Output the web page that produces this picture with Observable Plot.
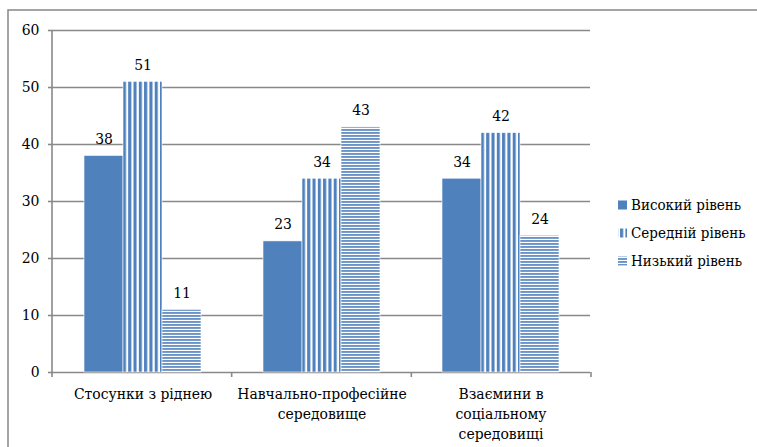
<!DOCTYPE html>
<html><head><meta charset="utf-8">
<script src="https://cdn.jsdelivr.net/npm/d3@7"></script>
<script src="https://cdn.jsdelivr.net/npm/@observablehq/plot@0.6"></script>
<style>
body{margin:0;background:#fff;}
#chart{position:relative;width:757px;height:447px;overflow:hidden;}
#chart svg{position:absolute;left:0;top:0;}
</style>
</head><body><div id="chart"></div>
<script>
const categories = ["Стосунки з ріднею", "Навчально-професійне середовище", "Взаємини в соціальному середовищі"];
const categoryLabels = ["Стосунки з ріднею", "Навчально-професійне\nсередовище", "Взаємини в\nсоціальному\nсередовищі"];
const series = ["Високий рівень", "Середній рівень", "Низький рівень"];
const highValues = [38, 23, 34];
const midValues = [51, 34, 42];
const lowValues = [11, 43, 24];
const yTicks = [0, 10, 20, 30, 40, 50, 60];

const seriesValues = [highValues, midValues, lowValues];
const fills = ["#4f81bd", "url(#vstripes)", "url(#hstripes)"];
const gridColor = "#898989";
const fontFamily = "'DejaVu Serif Condensed', 'DejaVu Serif'";
const fs = 15.5;
const data = categories.flatMap((c, i) => series.map((s, j) => ({category: c, series: s, value: seriesValues[j][i]})));

const plot = Plot.plot({
  width: 757, height: 447,
  marginLeft: 52, marginRight: 166, marginTop: 30, marginBottom: 75,
  style: {fontSize: fs + "px", fontFamily: fontFamily, color: "#000", background: "transparent", overflow: "visible"},
  fx: {domain: categories, padding: 0, label: null},
  x: {domain: series, paddingInner: 0, paddingOuter: 0.75, axis: null},
  y: {domain: [0, 60], label: null},
  marks: [
    Plot.ruleY(yTicks, {stroke: gridColor, strokeWidth: 1.6}),
    Plot.barY(data, {fx: "category", x: "series", y: "value",
      fill: {value: d => fills[series.indexOf(d.series)], scale: null}, stroke: "#fff", strokeWidth: 0.6}),
    Plot.text(data, {fx: "category", x: "series", y: "value", text: d => String(d.value), dy: -17, fill: "#000", fontSize: fs}),
    Plot.axisY({ticks: yTicks, tickSize: 5, tickPadding: 9, stroke: gridColor, strokeWidth: 1.6, fill: "#000", fontSize: fs, label: null}),
    Plot.axisFx({anchor: "bottom", tickSize: 0, tickPadding: 13, lineHeight: 1.27, fill: "#000", fontSize: fs, label: null,
      tickFormat: d => categoryLabels[categories.indexOf(d)]})
  ]
});

const svg = d3.select(plot);
const defs = svg.insert("defs", ":first-child");
const pv = defs.append("pattern").attr("id", "vstripes").attr("patternUnits", "userSpaceOnUse")
  .attr("width", 5.3).attr("height", 10);
pv.append("rect").attr("width", 5.3).attr("height", 10).attr("fill", "#fff");
pv.append("rect").attr("x", 0).attr("width", 3.1).attr("height", 10).attr("fill", "#4f81bd");
const ph = defs.append("pattern").attr("id", "hstripes").attr("patternUnits", "userSpaceOnUse")
  .attr("width", 10).attr("height", 3);
ph.append("rect").attr("width", 10).attr("height", 3).attr("fill", "#fff");
ph.append("rect").attr("y", 0).attr("width", 10).attr("height", 1.9).attr("fill", "#6a94c8");

const ys = plot.scale("y");
const fxs = plot.scale("fx");
const y0 = ys.apply ? ys.apply(0) : 372;
const yTop = ys.apply ? ys.apply(60) : 30;
const [fxLeft, fxRight] = fxs.range || [52, 591];
const g = svg.append("g").attr("stroke", gridColor).attr("stroke-width", 1.6);
g.append("line").attr("x1", fxLeft).attr("x2", fxLeft).attr("y1", yTop).attr("y2", y0 + 5);
for (let k = 1; k <= categories.length; k++) {
  const x = fxLeft + (fxRight - fxLeft) * k / categories.length;
  g.append("line").attr("x1", x).attr("x2", x).attr("y1", y0).attr("y2", y0 + 5);
}

const b = svg.append("g").attr("stroke", "#878787").attr("stroke-width", 1.5).attr("fill", "none");
b.append("path").attr("d", "M8,447V10H757");

const lg = svg.append("g").attr("font-size", 15).attr("text-anchor", "start");
series.forEach((s, j) => {
  const yy = 205 + j * 28;
  lg.append("rect").attr("x", 618).attr("y", yy - 4.5).attr("width", 9).attr("height", 9).attr("fill", fills[j]);
  lg.append("text").attr("x", 631).attr("y", yy).attr("dy", "0.35em").attr("fill", "#000").text(s);
});

svg.selectAll("text").style("font-family", fontFamily);
document.getElementById("chart").appendChild(plot);
</script>
</body></html>
